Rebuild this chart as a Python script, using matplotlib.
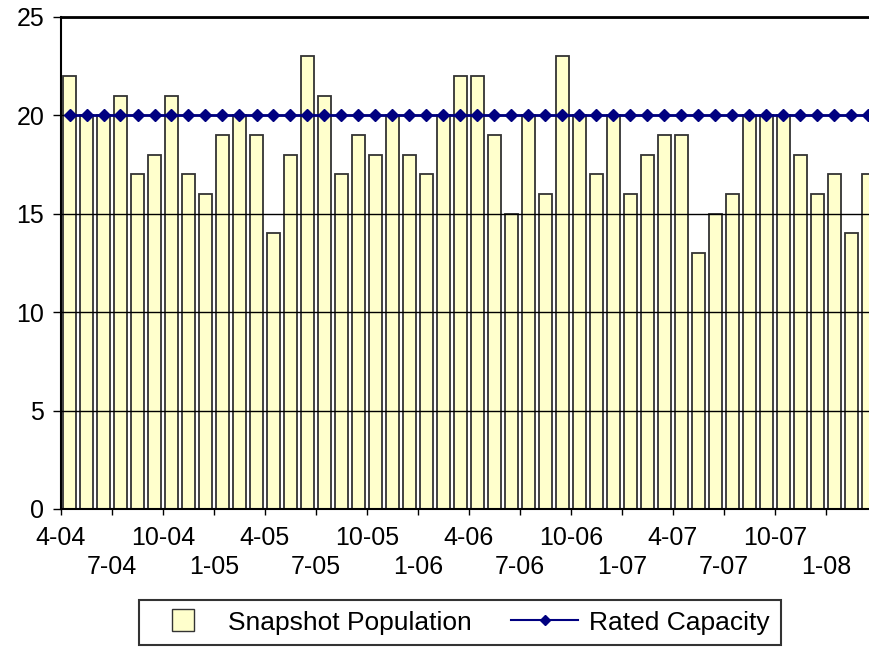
import numpy as np
import matplotlib.pyplot as plt
from matplotlib.lines import Line2D

plt.rcParams['font.family'] = ['Liberation Sans', 'DejaVu Sans']

# monthly snapshot, Apr 2004 .. Mar 2008
population = [22, 20, 20, 21, 17, 18, 21, 17, 16, 19, 20, 19, 14, 18, 23, 21,
              17, 19, 18, 20, 18, 17, 20, 22, 22, 19, 15, 20, 16, 23, 20, 17,
              20, 16, 18, 19, 19, 13, 15, 16, 20, 20, 20, 18, 16, 17, 14, 17]
capacity = [20] * len(population)
tick_labels = ['4-04', '7-04', '10-04', '1-05', '4-05', '7-05', '10-05', '1-06',
               '4-06', '7-06', '10-06', '1-07', '4-07', '7-07', '10-07', '1-08']

W, H = 870, 650
fig = plt.figure(figsize=(W / 100, H / 100), dpi=100)
ax = fig.add_axes([61 / W, (H - 509) / H, 816 / W, 492 / H])

x = np.arange(len(population)) + 0.5
ax.bar(x, population, width=0.8, color='#ffffcc', edgecolor='#333333',
       linewidth=1.3, zorder=2)
line, = ax.plot(x, capacity, color='#000080', linewidth=2, marker='D',
                markersize=6.5, zorder=4)

ax.set_xlim(0, len(population))
ax.set_ylim(0, 25)
ax.set_yticks(range(0, 26, 5))
for v in range(5, 26, 5):
    ax.axhline(v, color='black', linewidth=1, zorder=3)

ticks = np.arange(0, len(population), 3)
ax.set_xticks(ticks)
ax.set_xticklabels([lab if i % 2 == 0 else '\n' + lab
                    for i, lab in enumerate(tick_labels)], linespacing=1.25)
ax.tick_params(axis='both', direction='out', width=1, labelsize=18,
               colors='black')
ax.tick_params(axis='x', length=4.5, pad=8)
ax.tick_params(axis='y', length=6, pad=6)

ax.spines['right'].set_visible(False)
ax.spines['left'].set_linewidth(1.5)
ax.spines['bottom'].set_linewidth(1.5)
ax.spines['top'].set_linewidth(2)

# legend handles: small square for the bars, diamond line for capacity
sq = Line2D([], [], linestyle='none', marker='s', markersize=16,
            markerfacecolor='#ffffcc', markeredgecolor='#333333',
            markeredgewidth=1)
ln = Line2D([], [], color='#000080', linewidth=1.5, marker='D', markersize=5)
leg = fig.legend([sq, ln], ['Snapshot Population', 'Rated Capacity'],
                 loc='upper center', bbox_to_anchor=(460 / W, 1 - 600 / H),
                 ncol=2, fontsize=19, frameon=True, fancybox=False,
                 edgecolor='black', handlelength=2.54, handletextpad=0.42,
                 columnspacing=1.5, borderpad=0.4, borderaxespad=0)
leg.get_frame().set_linewidth(1.5)

fig.savefig('out.png', dpi=100)
